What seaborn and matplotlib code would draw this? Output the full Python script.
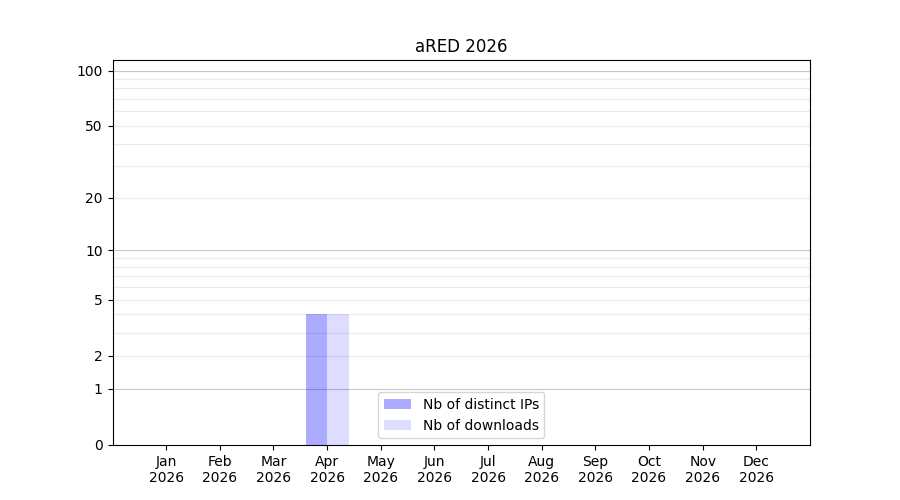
import numpy as np
import pandas as pd
import matplotlib
matplotlib.use("Agg")
import matplotlib.pyplot as plt
from matplotlib.patches import Patch
from matplotlib.ticker import FixedLocator, NullLocator
import seaborn as sns

months = ["Jan", "Feb", "Mar", "Apr", "May", "Jun", "Jul", "Aug", "Sep", "Oct", "Nov", "Dec"]
year = "2026"
distinct_ips = [0, 0, 0, 4, 0, 0, 0, 0, 0, 0, 0, 0]
downloads = [0, 0, 0, 4, 0, 0, 0, 0, 0, 0, 0, 0]
series_names = ["Nb of distinct IPs", "Nb of downloads"]
series_alpha = [0.33, 0.135]
ytick_values = [0, 1, 2, 5, 10, 20, 50, 100]
major_grid = [1, 10, 100]
minor_grid = [2, 3, 4, 5, 6, 7, 8, 9, 20, 30, 40, 50, 60, 70, 80, 90]

labels = [f"{m}\n{year}" for m in months]
df = pd.DataFrame({
    "month": labels * 2,
    "value": distinct_ips + downloads,
    "series": [series_names[0]] * 12 + [series_names[1]] * 12,
})

fig, ax = plt.subplots(figsize=(9, 5), dpi=100)
sns.barplot(data=df, x="month", y="value", hue="series", order=labels,
            hue_order=series_names, palette=["blue", "blue"], linewidth=0,
            ax=ax, legend=False, errorbar=None)

for container, a in zip(ax.containers, series_alpha):
    for bar in container:
        bar.set_facecolor((0, 0, 1, a))
        bar.set_edgecolor("none")

ax.set_yscale("function", functions=(lambda x: np.log10(np.clip(x, 0, None) + 1),
                                     lambda y: 10 ** y - 1))
ax.set_ylim(0, 114)
ax.set_xlim(-1, 12)
ax.yaxis.set_major_locator(FixedLocator(ytick_values))
ax.yaxis.set_minor_locator(NullLocator())
ax.set_yticklabels([str(v) for v in ytick_values])

for v in minor_grid:
    ax.axhline(v, color="#ebebeb", linewidth=0.8, zorder=0.5)
for v in major_grid:
    ax.axhline(v, color="#c8c8c8", linewidth=0.8, zorder=0.6)

ax.set_xlabel("")
ax.set_ylabel("")
ax.set_title("aRED " + year)

handles = [Patch(facecolor=(0, 0, 1, a), edgecolor="none") for a in series_alpha]
ax.legend(handles, series_names, loc="lower center")

fig.savefig("out.png", dpi=100)
